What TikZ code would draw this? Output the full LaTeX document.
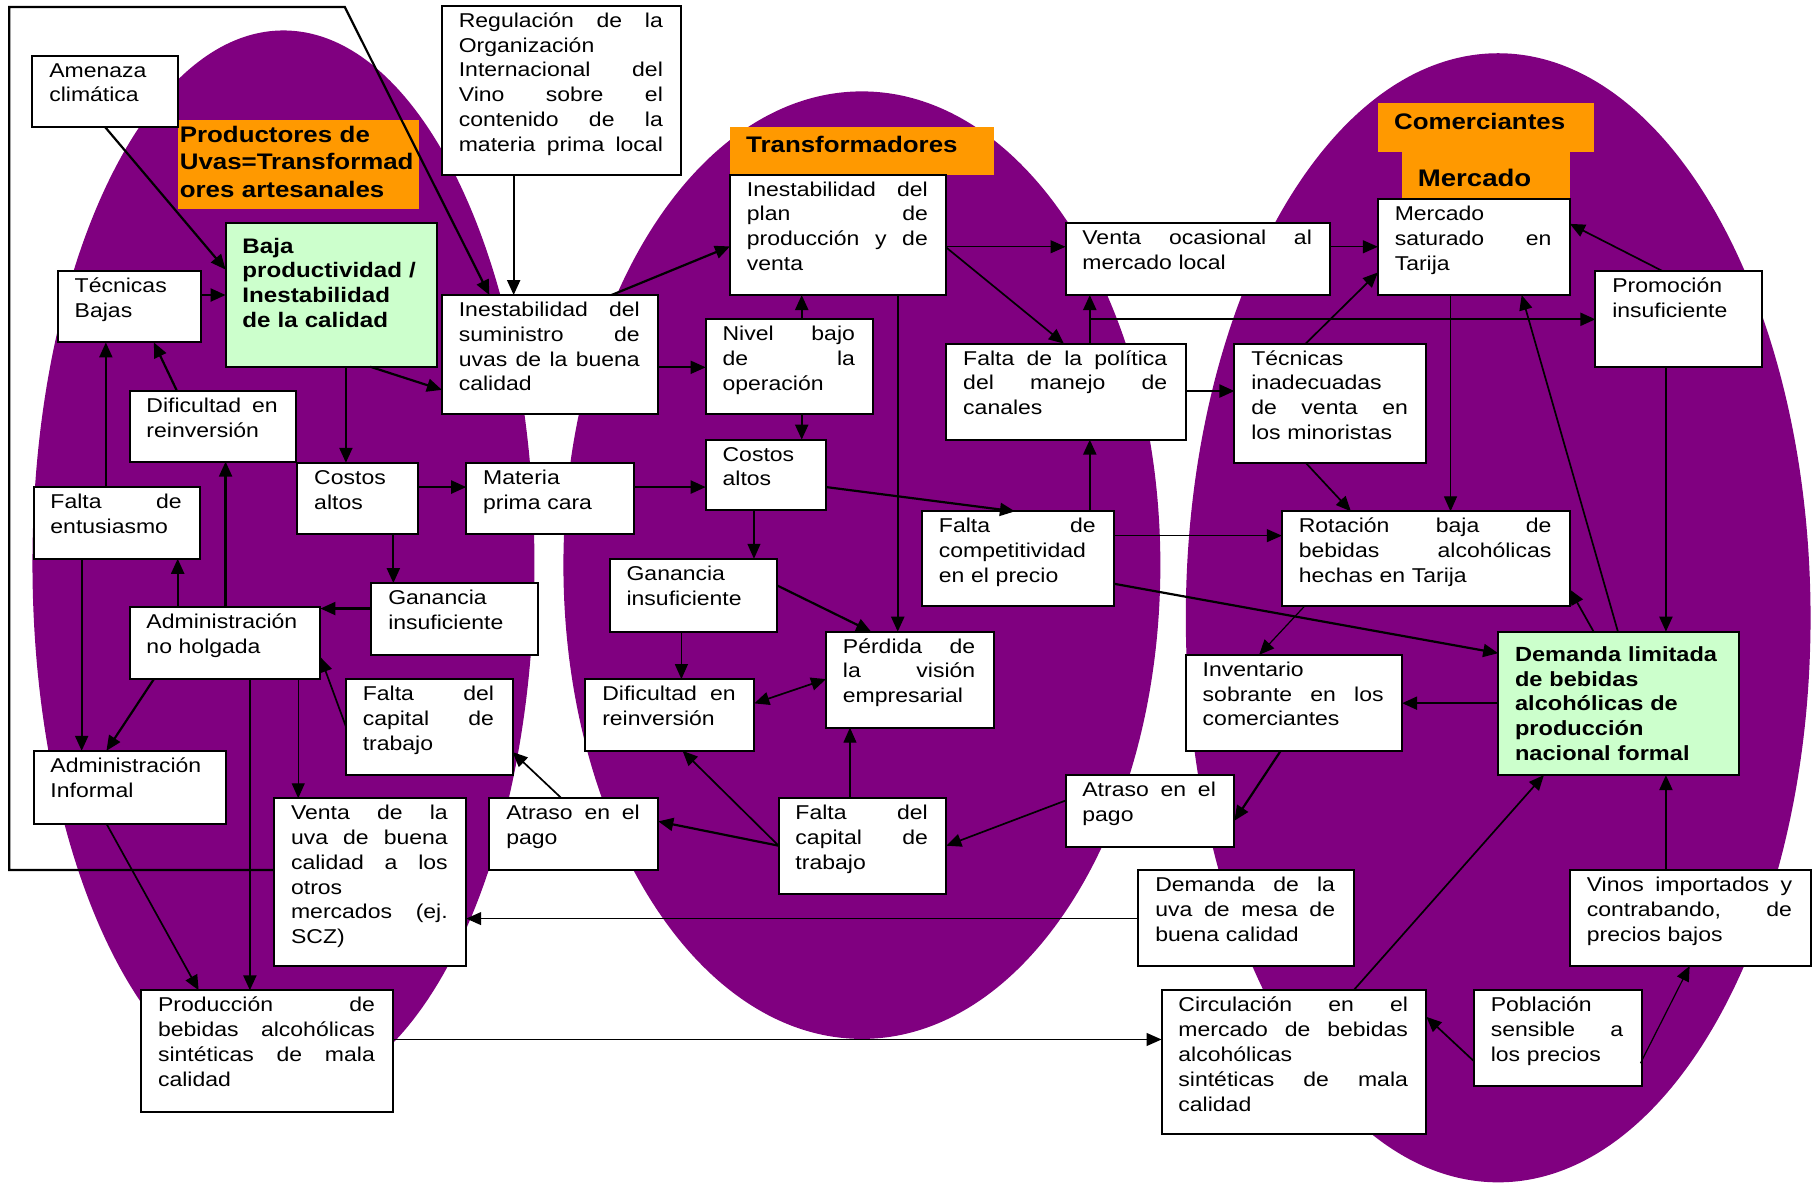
\documentclass[tikz,border=0pt]{standalone}
\usepackage{fontspec}
\setmainfont{Liberation Sans}[FakeStretch=1.15]
\usetikzlibrary{arrows.meta,calc}
\definecolor{purp}{HTML}{800080}
\definecolor{orng}{HTML}{FF9900}
\definecolor{grn}{HTML}{CCFFCC}
\newcommand\bx[8]{%
  \pgfmathsetmacro\bxw{(#5-#3)*1.157}%
  \pgfmathsetmacro\bxh{(#6-#4)*1.157}%
  \pgfmathsetmacro\bxt{\bxw-35.4}%
  \node[boxst,#1,minimum width=\bxw pt,minimum height=\bxh pt] (#2) at ({(#3+#5)/2},{(#4+#6)/2}) {};%
  \node[txt,text width=\bxt pt,#7] (#2-t) at ([xshift=16.9pt,yshift=-21.5pt]#2.north west) {#8};%
}
\newcommand\tl[9]{%
  \pgfmathsetmacro\bxw{(#4-#2)*1.157}%
  \pgfmathsetmacro\bxh{(#5-#3)*1.157}%
  \node[ttl,minimum width=\bxw pt,minimum height=\bxh pt] (#1) at ({(#2+#4)/2},{(#3+#5)/2}) {};%
  \node[ttxt,text width=\bxw pt,#9] (#1-t) at ([xshift=#6pt,yshift=-#7pt]#1.north west) {#8};%
}
\begin{document}
\begin{tikzpicture}[x=1.157pt,y=-1.157pt,
  boxst/.style={rectangle,draw=black,line width=2pt,fill=white,inner sep=0pt,outer sep=0pt},
  txt/.style={anchor=base west,inner sep=0pt,outer sep=0pt,align=left,font=\fontsize{20}{24.8}\selectfont},
  ttl/.style={rectangle,fill=orng,inner sep=0pt,outer sep=0pt},
  ttxt/.style={anchor=base west,inner sep=0pt,outer sep=0pt,align=left,font=\fontsize{22.5}{27.6}\selectfont\bfseries},
  tip/.style={-{Triangle[length=15pt,width=13pt]}},
  aT/.style={tip,line width=2.2pt},
  aM/.style={tip,line width=1.7pt},
  aN/.style={tip,line width=1.2pt},
  dbl/.style={{Triangle[length=15pt,width=13pt]}-{Triangle[length=15pt,width=13pt]},line width=1.7pt}]
\useasboundingbox (0,0) rectangle (1568,1023);
\fill[white] (0,0) rectangle (1568,1023);
% ellipses
\fill[purp] (245,487) ellipse [x radius=251pt, y radius=533pt];
\fill[purp] (745,488.5) ellipse [x radius=298.5pt, y radius=473.8pt];
\fill[purp] (1295,534) ellipse [x radius=312.4pt, y radius=564.6pt];
% titles
\tl{t1}{154}{104}{362}{181}{1.7}{22}{Productores de\\Uvas=Transformad\\ores artesanales}{}
\tl{t2}{631}{110}{859}{151}{16.2}{25}{Transformadores}{}
\tl{t3a}{1191}{89}{1378}{131}{16.2}{26.4}{Comerciantes}{}
\tl{t3b}{1212}{131}{1357}{172}{15.7}{35}{Mercado}{font=\fontsize{24}{28}\selectfont\bfseries}
% boxes
\bx{}{amen}{28}{48}{154}{110}{}{Amenaza\\climática}
\bx{fill=grn}{baja}{195}{193}{378}{317}{yshift=-8.5pt,font=\fontsize{21}{24.6}\selectfont\bfseries}{Baja\\productividad /\\Inestabilidad\\de la calidad}
\bx{}{tecb}{50}{234}{174}{296}{}{Técnicas\\Bajas}
\bx{}{difr1}{112}{338}{256}{399}{}{Dificultad\hfill en\\reinversión}
\bx{}{costos1}{257}{400}{361}{462}{}{Costos\\altos}
\bx{}{materia}{403}{400}{548}{462}{}{Materia\\prima cara}
\bx{}{faltaent}{29}{421}{173}{483}{}{Falta\hfill de\\entusiasmo}
\bx{}{insum}{382}{255}{569}{358}{}{Inestabilidad\hfill del\\suministro\hfill de\\uvas\hfill de\hfill la\hfill buena\\calidad}
\bx{}{regul}{382}{5}{589}{151}{}{Regulación\hfill de\hfill la\\Organización\\Internacional\hfill del\\Vino\hfill sobre\hfill el\\contenido\hfill de\hfill la\\materia\hfill prima\hfill local}
\bx{}{gan1}{321}{504}{465}{566}{}{Ganancia\\insuficiente}
\bx{}{admnh}{112}{525}{277}{587}{}{Administración\\no holgada}
\bx{}{faltacap1}{299}{587}{443}{670}{}{Falta\hfill del\\capital\hfill de\\trabajo}
\bx{}{adminf}{29}{649}{195}{712}{}{Administración\\Informal}
\bx{}{ventauva}{237}{690}{403}{835}{}{Venta\hfill de\hfill la\\uva\hfill de\hfill buena\\calidad\hfill a\hfill los\\otros\\mercados\hfill (ej.\\SCZ)}
\bx{}{atraso1}{423}{690}{569}{752}{}{Atraso\hfill en\hfill el\\pago}
\bx{}{prodsint}{122}{856}{340}{961}{}{Producción\hfill de\\bebidas\hfill alcohólicas\\sintéticas\hfill de\hfill mala\\calidad}
\bx{}{inplan}{631}{151}{818}{255}{}{Inestabilidad\hfill del\\plan\hfill de\\producción\hfill y\hfill de\\venta}
\bx{}{nivel}{610}{276}{755}{358}{}{Nivel\hfill bajo\\de\hfill la\\operación}
\bx{}{costos2}{610}{380}{714}{441}{}{Costos\\altos}
\bx{}{gan2}{527}{483}{672}{546}{}{Ganancia\\insuficiente}
\bx{}{perdida}{714}{546}{859}{629}{}{Pérdida\hfill de\\la\hfill visión\\empresarial}
\bx{}{difr2}{506}{587}{652}{649}{}{Dificultad\hfill en\\reinversión}
\bx{}{faltacap2}{673}{690}{818}{773}{}{Falta\hfill del\\capital\hfill de\\trabajo}
\bx{}{faltapol}{818}{297}{1025}{380}{}{Falta\hfill de\hfill la\hfill política\\del\hfill manejo\hfill de\\canales}
\bx{}{ventaoc}{921}{193}{1150}{255}{}{Venta\hfill ocasional\hfill al\\mercado local}
\bx{}{faltacomp}{797}{442}{963}{524}{}{Falta\hfill de\\competitividad\\en el precio}
\bx{}{mercsat}{1191}{172}{1357}{255}{}{Mercado\\saturado\hfill en\\Tarija}
\bx{}{promo}{1379}{234}{1523}{317}{}{Promoción\\insuficiente}
\bx{}{tecinad}{1067}{297}{1233}{400}{}{Técnicas\\inadecuadas\\de\hfill venta\hfill en\\los minoristas}
\bx{}{rotacion}{1108}{442}{1357}{524}{}{Rotación\hfill baja\hfill de\\bebidas\hfill alcohólicas\\hechas en Tarija}
\bx{fill=grn}{demanda}{1295}{546}{1503}{670}{yshift=-8.5pt,font=\fontsize{20.5}{24.6}\selectfont\bfseries}{Demanda limitada\\de bebidas\\alcohólicas de\\producción\\nacional formal}
\bx{}{inventario}{1025}{566}{1212}{649}{}{Inventario\\sobrante\hfill en\hfill los\\comerciantes}
\bx{}{atraso2}{921}{670}{1067}{732}{}{Atraso\hfill en\hfill el\\pago}
\bx{}{demuva}{984}{752}{1170}{835}{}{Demanda\hfill de\hfill la\\uva\hfill de\hfill mesa\hfill de\\buena calidad}
\bx{}{vinos}{1357}{752}{1565}{835}{}{Vinos\hfill importados\hfill y\\contrabando,\hfill de\\precios bajos}
\bx{}{circ}{1004}{856}{1233}{980}{}{Circulación\hfill en\hfill el\\mercado\hfill de\hfill bebidas\\alcohólicas\\sintéticas\hfill de\hfill mala\\calidad}
\bx{}{pobl}{1274}{856}{1419}{939}{}{Población\\sensible\hfill a\\los precios}
% connectors left
\draw[aT] ($(amen.north west)+(63,62)$) -- ($(baja.north west)+(0,40)$);
\draw[aT] ($(tecb.north west)+(124,21)$) -- ($(baja.north west)+(0,62)$);
\coordinate (fr1) at (8,6);
\coordinate (fr2) at (298,6);
\draw[aT] ($(ventauva.north west)+(0,62)$) -| (fr1) -- (fr2) -- ($(insum.north west)+(41,0)$);
\draw[aT] ($(regul.north west)+(62,146)$) -- ($(insum.north west)+(62,0)$);
\draw[aT] ($(baja.north west)+(125,124)$) -- ($(insum.north west)+(0,82)$);
\draw[aT] ($(baja.north west)+(104,124)$) -- ($(costos1.north west)+(42,0)$);
\draw[aT] ($(difr1.north west)+(41,0)$) -- ($(tecb.north west)+(83,62)$);
\draw[aT] ($(faltaent.north west)+(62.5,0)$) -- ($(tecb.north west)+(41.5,62)$);
\draw[aT] ($(costos1.north west)+(104,21)$) -- ($(materia.north west)+(0,21)$);
\draw[aT] ($(materia.north west)+(145,21)$) -- ($(costos2.north west)+(0,41)$);
\draw[aT] ($(costos1.north west)+(83,62)$) -- ($(gan1.north west)+(19,0)$);
\draw[aT] ($(gan1.north west)+(0,22)$) -- ($(admnh.north west)+(165,1)$);
\draw[aT] ($(admnh.north west)+(41.6,0)$) -- ($(faltaent.north west)+(124.6,62)$);
\draw[aT] ($(admnh.north west)+(83,0)$) -- ($(difr1.north west)+(83,61)$);
\draw[aT] ($(faltaent.north west)+(41.6,62)$) -- ($(adminf.north west)+(41.6,0)$);
\draw[aT] ($(admnh.north west)+(21,62)$) -- ($(adminf.north west)+(63,0)$);
\draw[aM] ($(faltacap1.north west)+(0,41)$) -- ($(admnh.north west)+(165,43)$);
\draw[aN] ($(admnh.north west)+(145.8,62)$) -- ($(ventauva.north west)+(20.8,0)$);
\draw[aT] ($(admnh.north west)+(104,62)$) -- ($(prodsint.north west)+(94,0)$);
\draw[aM] ($(adminf.north west)+(63,63)$) -- ($(prodsint.north west)+(49.7,0)$);
\draw[aM] ($(atraso1.north west)+(62.4,0)$) -- ($(faltacap1.north west)+(144,63)$);
\draw[aN] ($(demuva.north west)+(0,42)$) -- ($(ventauva.north west)+(166,104)$);
\draw[aN] ($(prodsint.north west)+(218,42.5)$) -- ($(circ.north west)+(0,42.5)$);
\draw[aT] ($(faltacap2.north west)+(0,41)$) -- ($(atraso1.north west)+(146,20)$);
% connectors middle
\draw[aT] ($(insum.north west)+(146.6,0)$) -- ($(inplan.north west)+(0,62)$);
\draw[aM] ($(insum.north west)+(187,62.5)$) -- ($(nivel.north west)+(0,41.5)$);
\draw[aT] ($(nivel.north west)+(83,0)$) -- ($(inplan.north west)+(62,104)$);
\draw[aT] ($(nivel.north west)+(83,82)$) -- ($(costos2.north west)+(83,0)$);
\draw[aN] ($(costos2.north west)+(41.7,61)$) -- ($(gan2.north west)+(124.7,0)$);
\draw[aT] ($(costos2.north west)+(104,41)$) -- ($(faltacomp.north west)+(80.3,0)$);
\draw[aT] ($(inplan.north west)+(145,104)$) -- ($(perdida.north west)+(62,0)$);
\draw[aT] ($(gan2.north west)+(144.6,23)$) -- ($(perdida.north west)+(39,0)$);
\draw[aN] ($(gan2.north west)+(62,63)$) -- ($(difr2.north west)+(83,0)$);
\draw[dbl] ($(difr2.north west)+(146,21)$) -- ($(perdida.north west)+(0,41)$);
\draw[aN] ($(faltacap2.north west)+(61.7,0)$) -- ($(perdida.north west)+(20.7,83)$);
\draw[aM] ($(faltacap2.north west)+(0,41)$) -- ($(difr2.north west)+(84,62)$);
\draw[aM] ($(atraso2.north west)+(0,22)$) -- ($(faltacap2.north west)+(145,41)$);
\draw[aN] ($(inplan.north west)+(187,62.3)$) -- ($(ventaoc.north west)+(0,20.3)$);
\draw[aM] ($(inplan.north west)+(187,63)$) -- ($(faltapol.north west)+(101.6,0)$);
\draw[aT] ($(faltacomp.north west)+(145,0)$) -- ($(faltapol.north west)+(124,83)$);
\draw[aT] ($(faltapol.north west)+(124,0)$) -- ($(ventaoc.north west)+(21,62)$);
\draw[aT] ($(faltapol.north west)+(124,0)$) |- ($(promo.north west)+(0,42)$);
\draw[aT] ($(faltapol.north west)+(207,41)$) -- ($(tecinad.north west)+(0,41)$);
\draw[aN] ($(ventaoc.north west)+(229,20.3)$) -- ($(mercsat.north west)+(0,41.3)$);
\draw[aN] ($(faltacomp.north west)+(166,21)$) -- ($(rotacion.north west)+(0,21)$);
\draw[aT] ($(faltacomp.north west)+(166,62.6)$) -- ($(demanda.north west)+(0,18.6)$);
% connectors right
\draw[aM] ($(tecinad.north west)+(61.6,0)$) -- ($(mercsat.north west)+(0,63.5)$);
\draw[aM] ($(promo.north west)+(57.5,0)$) -- ($(mercsat.north west)+(166,21.5)$);
\draw[aN] ($(mercsat.north west)+(62.8,83)$) -- ($(rotacion.north west)+(145.8,0)$);
\draw[aM] ($(tecinad.north west)+(61.6,103)$) -- ($(rotacion.north west)+(59.7,0)$);
\draw[aM] ($(demanda.north west)+(103.5,0)$) -- ($(mercsat.north west)+(124.3,83)$);
\draw[aM] ($(demanda.north west)+(82.5,0)$) -- ($(rotacion.north west)+(249,67.6)$);
\draw[aT] ($(promo.north west)+(61,83)$) -- ($(demanda.north west)+(145,0)$);
\draw[aN] ($(rotacion.north west)+(19.6,82)$) -- ($(inventario.north west)+(63.4,0)$);
\draw[aT] ($(demanda.north west)+(0,61.8)$) -- ($(inventario.north west)+(187,41.8)$);
\draw[aT] ($(inventario.north west)+(82,83)$) -- ($(atraso2.north west)+(146,39.4)$);
\draw[aT] ($(vinos.north west)+(83,0)$) -- ($(demanda.north west)+(145,124)$);
\draw[aM] ($(circ.north west)+(166,0)$) -- ($(demanda.north west)+(39.5,124)$);
\draw[aM] ($(pobl.north west)+(0.3,61.5)$) -- ($(circ.north west)+(229,23)$);
\draw[aN] ($(pobl.north west)+(144,63)$) -- ($(vinos.north west)+(103.5,83)$);
\end{tikzpicture}
\end{document}
